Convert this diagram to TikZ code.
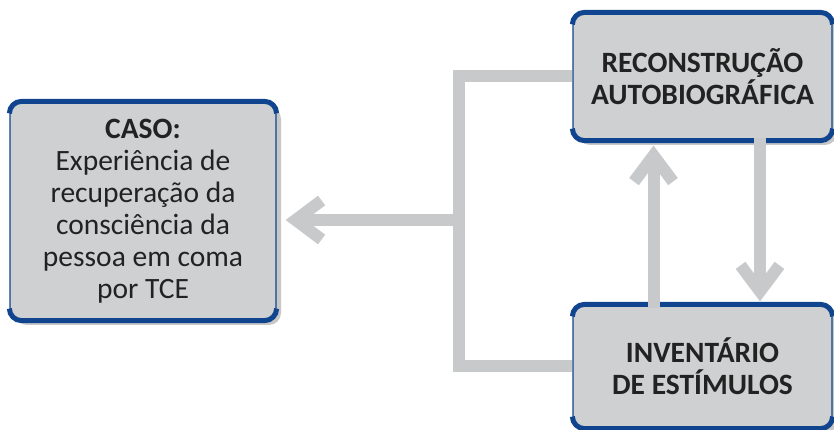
\documentclass[tikz,border=0pt]{standalone}
\usepackage{fontspec}
\setmainfont{Carlito}
\usetikzlibrary{arrows.meta,shadows}
\definecolor{boxgray}{RGB}{207,208,210}
\definecolor{rimblue}{RGB}{16,68,142}
\definecolor{linkgray}{RGB}{200,201,203}
\definecolor{textgray}{RGB}{34,34,34}
% thick blue rim on top and bottom of a box
\newcommand{\boxrims}[1]{%
  \draw[rimblue, line width=5pt, rounded corners=12pt]
    ([yshift=-12pt]#1.north west) -- (#1.north west) -- (#1.north east) -- ([yshift=-12pt]#1.north east);
  \draw[rimblue, line width=5pt, rounded corners=12pt]
    ([yshift=12pt]#1.south west) -- (#1.south west) -- (#1.south east) -- ([yshift=12pt]#1.south east);
}

\begin{document}
\begin{tikzpicture}[x=1pt,y=1pt,
    box/.style={rectangle, rounded corners=12pt, fill=boxgray, draw=rimblue, line width=1.2pt,
      text=textgray, align=center, font=\fontsize{29.5}{32}\selectfont,
      drop shadow={shadow xshift=5pt, shadow yshift=-5pt, fill=black, opacity=0.22}},
    link/.style={linkgray, line width=12pt, line join=miter},
    flow/.style={link, -{Straight Barb[length=26pt, width=39pt]}}]
    \useasboundingbox (0,0) rectangle (834,430);
    % Draw the three boxes
    \node[box, minimum width=266pt, minimum height=218pt] (caso) at (143,219)
        {\textbf{CASO:}\\Experiência de\\recuperação da\\consciência da\\pessoa em coma\\por TCE};
    \node[box, minimum width=259pt, minimum height=127pt] (recon) at (702.5,353.5)
        {\textbf{RECONSTRUÇÃO}\\\textbf{AUTOBIOGRÁFICA}};
    \node[box, minimum width=259pt, minimum height=123pt] (invent) at (702.5,63.5)
        {\textbf{INVENTÁRIO}\\\textbf{DE ESTÍMULOS}};
    \boxrims{caso}
    \boxrims{recon}
    \boxrims{invent}
    % Connectors
    \coordinate (join) at (459,210);
    \draw[link] (recon.west) -| (join) |- (invent.west);
    \draw[flow, shorten >=9pt] (join) -- (caso.east |- join);
    \draw[flow, shorten >=5pt] ([xshift=-49pt, yshift=-4pt]invent.north) -- ([xshift=-49pt]recon.south);
    \draw[flow, shorten >=3pt] ([xshift=57.5pt, yshift=3pt]recon.south) -- ([xshift=57.5pt]invent.north);
\end{tikzpicture}
\end{document}
